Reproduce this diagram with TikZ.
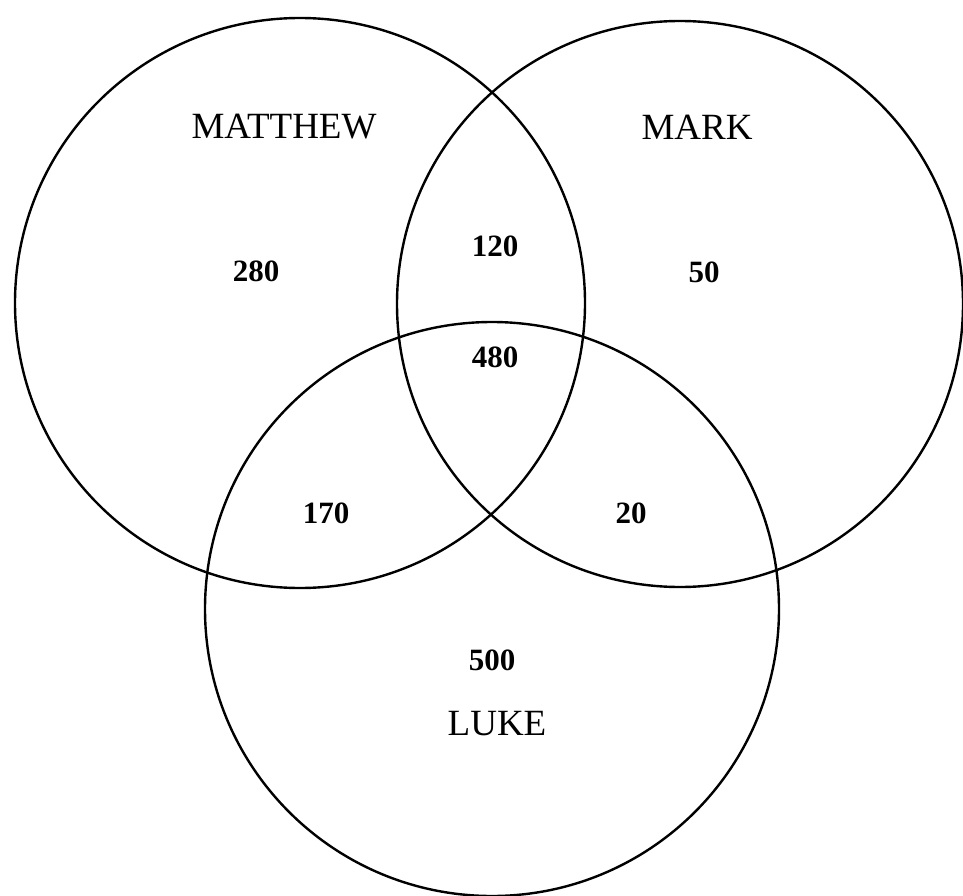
\documentclass[tikz,border=0pt]{standalone}
\usepackage{fontspec}
\newfontfamily\numfont{Liberation Serif}
\tikzset{
  setcircle/.style={draw=black, line width=2.4pt},
  gospel/.style={font=\numfont\fontsize{37}{42}\selectfont},
  count/.style={font=\numfont\bfseries\fontsize{31}{36}\selectfont}
}

\begin{document}
\begin{tikzpicture}[x=1pt,y=-1pt]
        \useasboundingbox (0,0) rectangle (963,896);
        % the three gospels
        \draw[setcircle] (300,303) circle[radius=285pt];
        \draw[setcircle] (680,304) circle[radius=283pt];
        \draw[setcircle] (492,609) circle[radius=287pt];
        \node[gospel] (matthew) at (284,127) {MATTHEW};
        \node[gospel] (mark) at (697,127) {MARK};
        \node[gospel] (luke) at (497,724) {LUKE};
        % counts in each region
        \node[count] (onlymatthew) at (256,271) {280};
        \node[count] (matthewmark) at (495,246) {120};
        \node[count] (onlymark) at (704,272) {50};
        \node[count] (allthree) at (495,357) {480};
        \node[count] (matthewluke) at (326,513) {170};
        \node[count] (markluke) at (631,513) {20};
        \node[count] (onlyluke) at (492,660) {500};
      \end{tikzpicture}
\end{document}
